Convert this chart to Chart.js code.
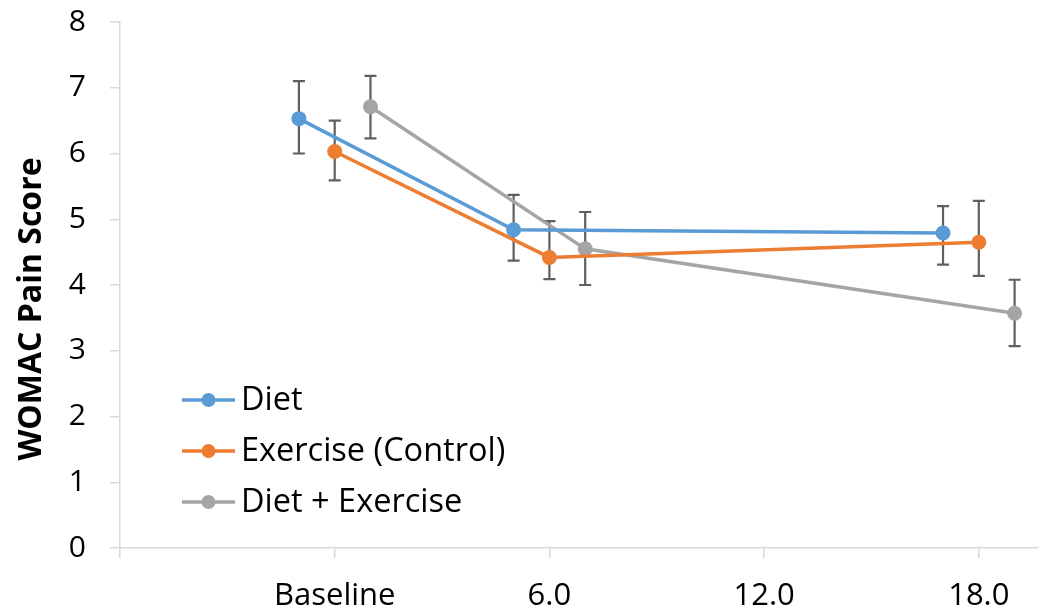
<!DOCTYPE html>
<html><head><meta charset="utf-8">
<script src="https://cdn.jsdelivr.net/npm/chart.js@4/dist/chart.umd.min.js"></script>
<style>html,body{margin:0;padding:0;background:#fff;overflow:hidden}#wrap{width:1045px;height:611px;position:relative}</style>
</head><body><div id="wrap"><canvas id="c"></canvas></div>
<script>
// ---- data ----
const seriesNames = ['Diet', 'Exercise (Control)', 'Diet + Exercise'];
const dietX = [-1, 5, 17];
const dietY = [6.53, 4.84, 4.79];
const dietErrPlus = [0.57, 0.53, 0.41];
const dietErrMinus = [0.53, 0.47, 0.48];
const exerciseX = [0, 6, 18];
const exerciseY = [6.03, 4.42, 4.65];
const exerciseErrPlus = [0.47, 0.55, 0.63];
const exerciseErrMinus = [0.44, 0.33, 0.51];
const comboX = [1, 7, 19];
const comboY = [6.71, 4.55, 3.57];
const comboErrPlus = [0.47, 0.56, 0.51];
const comboErrMinus = [0.48, 0.55, 0.50];
const xTickValues = [-6, 0, 6, 12, 18];
const xTickLabels = ['', 'Baseline', '6.0', '12.0', '18.0'];
const yTitle = 'WOMAC Pain Score';
const colors = ['#5B9BD5', '#ED7D31', '#A5A5A5'];

const FONT = "'Open Sans', Lato, sans-serif";
const toPts = (xs, ys) => xs.map((x, i) => ({x: x, y: ys[i]}));
const errs = [
  {plus: dietErrPlus, minus: dietErrMinus},
  {plus: exerciseErrPlus, minus: exerciseErrMinus},
  {plus: comboErrPlus, minus: comboErrMinus}
];

const errorBars = {
  id: 'errorBars',
  beforeDatasetsDraw(chart) {
    const ctx = chart.ctx, ys = chart.scales.y;
    ctx.save();
    ctx.strokeStyle = '#5f5f5f';
    ctx.lineWidth = 2.2;
    chart.data.datasets.forEach((ds, di) => {
      const meta = chart.getDatasetMeta(di);
      meta.data.forEach((pt, i) => {
        const v = ds.data[i].y;
        const top = ys.getPixelForValue(v + errs[di].plus[i]);
        const bot = ys.getPixelForValue(v - errs[di].minus[i]);
        const x = pt.x;
        ctx.beginPath();
        ctx.moveTo(x, top); ctx.lineTo(x, bot);
        ctx.moveTo(x - 6, top); ctx.lineTo(x + 6, top);
        ctx.moveTo(x - 6, bot); ctx.lineTo(x + 6, bot);
        ctx.stroke();
      });
    });
    ctx.restore();
  }
};

const customLegend = {
  id: 'customLegend',
  afterDraw(chart) {
    const ctx = chart.ctx;
    ctx.save();
    ctx.font = "32.5px " + FONT;
    ctx.textBaseline = 'middle';
    chart.data.datasets.forEach((ds, i) => {
      const y = 400 + i * 51;
      ctx.strokeStyle = ds.borderColor;
      ctx.lineWidth = 3.5;
      ctx.beginPath(); ctx.moveTo(182, y); ctx.lineTo(235, y); ctx.stroke();
      ctx.fillStyle = ds.backgroundColor;
      ctx.beginPath(); ctx.arc(208.5, y, 7, 0, Math.PI * 2); ctx.fill();
      ctx.fillStyle = '#000';
      ctx.fillText(ds.label, 241, y + 1);
    });
    ctx.restore();
  }
};

const yTitlePlugin = {
  id: 'yTitlePlugin',
  afterDraw(chart) {
    const ctx = chart.ctx;
    ctx.save();
    ctx.translate(32, 309);
    ctx.rotate(-Math.PI / 2);
    ctx.font = "bold 32px " + FONT;
    ctx.textAlign = 'center';
    ctx.textBaseline = 'middle';
    ctx.fillStyle = '#000';
    ctx.fillText(yTitle, 0, 0);
    ctx.restore();
  }
};

const datasets = [
  {label: seriesNames[0], data: toPts(dietX, dietY)},
  {label: seriesNames[1], data: toPts(exerciseX, exerciseY)},
  {label: seriesNames[2], data: toPts(comboX, comboY)}
].map((d, i) => Object.assign(d, {
  borderColor: colors[i], backgroundColor: colors[i],
  pointBackgroundColor: colors[i], pointBorderColor: colors[i],
  pointRadius: 7.5, pointBorderWidth: 0, borderWidth: 3.5,
  showLine: true, tension: 0
}));

new Chart(document.getElementById('c'), {
  type: 'scatter',
  data: {datasets},
  plugins: [errorBars, customLegend, yTitlePlugin],
  options: {
    responsive: true, maintainAspectRatio: false, animation: false,
    layout: {padding: 0},
    plugins: {legend: {display: false}, tooltip: {enabled: false}},
    scales: {
      x: {
        type: 'linear', min: -6, max: 19.64,
        afterBuildTicks(s) { s.ticks = xTickValues.map(v => ({value: v})); },
        afterFit(s) { s.height = 63; s.paddingLeft = 0; s.paddingRight = 0; },
        grid: {drawOnChartArea: false, drawTicks: true, tickLength: 10, color: '#d9d9d9', lineWidth: 1.5},
        border: {color: '#d9d9d9', width: 1.5},
        ticks: {
          autoSkip: false, maxRotation: 0, padding: 20, color: '#000',
          font: {family: FONT, size: 31},
          callback(v) { const k = xTickValues.indexOf(v); return k >= 0 ? xTickLabels[k] : ''; }
        }
      },
      y: {
        min: 0, max: 8,
        afterFit(s) { s.width = 120; s.paddingTop = 22; s.paddingBottom = 0; },
        grid: {drawOnChartArea: false, drawTicks: true, tickLength: 10, color: '#d9d9d9', lineWidth: 1.5},
        border: {color: '#d9d9d9', width: 1.5},
        ticks: {stepSize: 1, padding: 24, color: '#000', font: {family: FONT, size: 30}}
      }
    }
  }
});
</script></body></html>
